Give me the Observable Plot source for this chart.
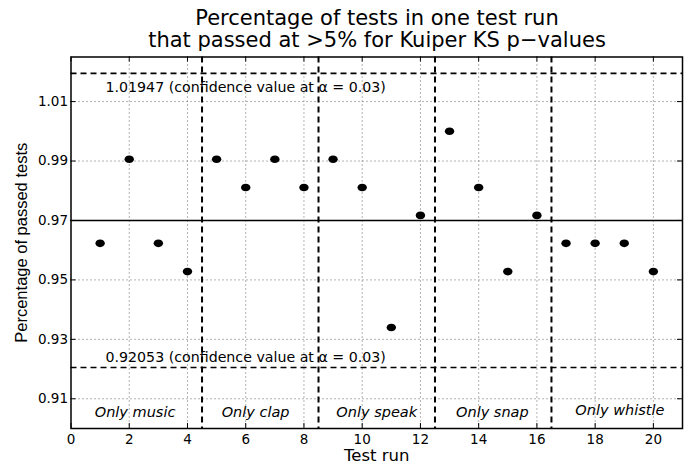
<!DOCTYPE html>
<html>
<head>
<meta charset="utf-8">
<script src="https://cdn.jsdelivr.net/npm/d3@7"></script>
<script src="https://cdn.jsdelivr.net/npm/@observablehq/plot@0.6"></script>
<style>
  html, body { margin: 0; padding: 0; background: #fff; }
  #title { box-sizing: border-box; width: 697px; height: 50px; padding: 7px 0 0 57px;
    font-family: "DejaVu Sans", sans-serif; font-size: 21px; line-height: 22px; text-align: center; color: #000; }
  #chart svg { display: block; }
</style>
</head>
<body>
<div id="title">Percentage of tests in one test run<br>that passed at &gt;5% for Kuiper KS p−values</div>
<div id="chart"></div>
<script>
const titleLines = ["Percentage of tests in one test run", "that passed at >5% for Kuiper KS p−values"];
const runs = [1, 2, 3, 4, 5, 6, 7, 8, 9, 10, 11, 12, 13, 14, 15, 16, 17, 18, 19, 20];
const passed = [0.9623, 0.9906, 0.9623, 0.9528, 0.9906, 0.9811, 0.9906, 0.9811, 0.9906, 0.9811,
                0.9340, 0.9717, 1.0000, 0.9811, 0.9528, 0.9717, 0.9623, 0.9623, 0.9623, 0.9528];
const xTicks = [0, 2, 4, 6, 8, 10, 12, 14, 16, 18, 20];
const yTicks = [0.91, 0.93, 0.95, 0.97, 0.99, 1.01];
const confidence = [1.01947, 0.92053];
const confidenceLabels = ["1.01947 (confidence value at α = 0.03)", "0.92053 (confidence value at α = 0.03)"];
const confidenceLabelX = [1.185, 1.185];
const confidenceLabelY = [1.0148, 0.9240];
const expectedRate = [0.97];
const boundaries = [4.5, 8.5, 12.5, 16.5];
const groupNames = ["Only music", "Only clap", "Only speak", "Only snap", "Only whistle"];
const groupX = [2.2, 6.34, 10.5, 14.47, 18.85];
const groupY = [0.9054, 0.9054, 0.9054, 0.9054, 0.9061];
const xLabel = "Test run";
const yLabel = "Percentage of passed tests";

const points = runs.map((r, i) => ({run: r, value: passed[i]}));
const confRows = confidence.map((v, i) => ({text: confidenceLabels[i], x: confidenceLabelX[i], y: confidenceLabelY[i]}));
const groups = groupNames.map((n, i) => ({name: n, x: groupX[i], y: groupY[i]}));

const W = 697, H = 416, mL = 70.5, mR = 15, mT = 6.5, mB = 38;
const innerW = W - mL - mR, innerH = H - mT - mB;
const tickLen = 5;
const ellipse = {
  draw(ctx) {
    const rx = 4.7, ry = 3.8, k = 0.5523;
    ctx.moveTo(rx, 0);
    ctx.bezierCurveTo(rx, ry * k, rx * k, ry, 0, ry);
    ctx.bezierCurveTo(-rx * k, ry, -rx, ry * k, -rx, 0);
    ctx.bezierCurveTo(-rx, -ry * k, -rx * k, -ry, 0, -ry);
    ctx.bezierCurveTo(rx * k, -ry, rx, -ry * k, rx, 0);
    ctx.closePath();
  }
};

const font = "DejaVu Sans, sans-serif";
const chart = Plot.plot({
  width: W, height: H,
  marginLeft: mL, marginRight: mR, marginTop: mT, marginBottom: mB,
  style: {fontFamily: font, fontSize: "13px", color: "#000", background: "#fff"},
  x: {domain: [0, 21], ticks: xTicks, tickFormat: d => String(d)},
  y: {domain: [0.90, 1.025], ticks: yTicks, tickFormat: d => d.toFixed(2)},
  marks: [
    Plot.gridX(xTicks.filter(d => d > 0), {stroke: "#666", strokeOpacity: 1, strokeDasharray: "1,3"}),
    Plot.gridY(yTicks, {stroke: "#666", strokeOpacity: 1, strokeDasharray: "1,3"}),
    Plot.axisX({ticks: xTicks, tickSize: 0, tickPadding: 6, label: null, fontSize: 13.5}),
    Plot.axisY({ticks: yTicks, tickSize: 0, tickPadding: 3, label: null, fontSize: 13.5, tickFormat: d => d.toFixed(2)}),
    Plot.tickX(xTicks, {x: d => d, insetTop: innerH - tickLen, stroke: "#000"}),
    Plot.tickX(xTicks, {x: d => d, insetBottom: innerH - tickLen, stroke: "#000"}),
    Plot.tickY(yTicks, {y: d => d, insetRight: innerW - tickLen, stroke: "#000"}),
    Plot.tickY(yTicks, {y: d => d, insetLeft: innerW - tickLen, stroke: "#000"}),
    Plot.ruleY(confidence, {stroke: "#000", strokeWidth: 1.7, strokeDasharray: "6,4"}),
    Plot.ruleY(expectedRate, {stroke: "#000", strokeWidth: 1.5}),
    Plot.ruleX(boundaries, {stroke: "#000", strokeWidth: 2, strokeDasharray: "6,4"}),
    Plot.dot(points, {x: "run", y: "value", symbol: ellipse, fill: "#000", stroke: "none"}),
    Plot.text(confRows, {x: "x", y: "y", text: "text", textAnchor: "start", fontSize: 14.2, fill: "#000"}),
    Plot.text(groups, {x: "x", y: "y", text: "name", fontSize: 14.5, fontStyle: "italic", fill: "#000"}),
    Plot.text([xLabel], {text: d => d, frameAnchor: "bottom", textAnchor: "middle", lineAnchor: "middle", dy: 27.5, fontSize: 16.5, fill: "#000"}),
    Plot.text([yLabel], {text: d => d, frameAnchor: "left", textAnchor: "middle", lineAnchor: "middle", dx: -49, rotate: -90, fontSize: 16.5, fontFamily: "Liberation Sans, sans-serif", fill: "#000"}),
    Plot.frame({stroke: "#000", strokeWidth: 1.5})
  ]
});
document.getElementById("chart").appendChild(chart);
</script>
</body>
</html>
